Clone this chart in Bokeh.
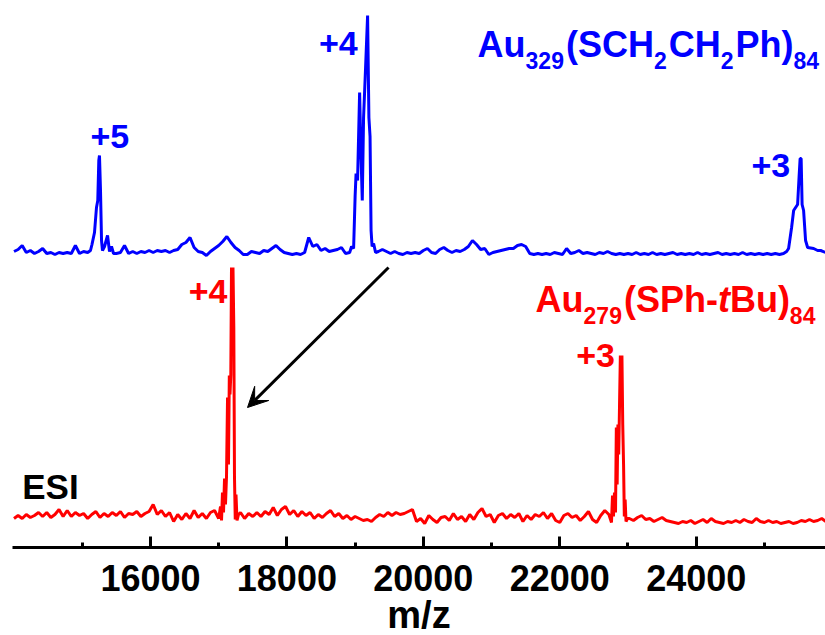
from bokeh.plotting import figure
from bokeh.models import Range1d, Label, Arrow, VeeHead, FixedTicker, ColumnDataSource
from bokeh.embed import file_html
from bokeh.resources import INLINE

# ---------------- data ----------------
# Au329(SCH2CH2Ph)84 spectrum (blue), m/z and intensity (a.u.)
blue_mz_a = [14000, 14060, 14120, 14180, 14240, 14300, 14360, 14420, 14480, 14540,
             14600, 14660, 14720, 14780, 14840, 14900, 14960, 15020, 15080]
blue_int_a = [5, 7, 11, 4, 6, 3, 5, 8, 3, 4, 2, 4, 3, 4, 3, 11, 3, 5, 4]
blue_mz_p5 = [15121, 15143, 15180, 15209, 15228, 15243, 15253, 15268, 15283, 15297,
              15327, 15371, 15400, 15429, 15459]
blue_int_p5 = [6, 12, 24, 49, 56, 96, 101, 66, 16, 6, 10, 21, 5, 10, 3]
blue_mz_b = [15500, 15560, 15620, 15680, 15740, 15800, 15860, 15920, 15980, 16040,
             16100, 16160, 16220, 16280, 16340, 16400, 16460, 16520, 16580, 16640,
             16700, 16760, 16820, 16880, 16940, 17000, 17060, 17120, 17180, 17240,
             17300, 17360, 17420, 17480, 17540, 17600, 17660, 17720, 17780, 17840,
             17900, 17960, 18020, 18080, 18140, 18200, 18260, 18320, 18380, 18440,
             18500, 18560, 18620, 18680, 18740, 18800, 18860, 18920]
blue_int_b = [3, 4, 11, 3, 5, 3, 5, 4, 6, 4, 6, 5, 6, 4, 6, 7, 12, 14, 19, 9,
              5, 4, 1, 5, 8, 11, 15, 20, 14, 9, 6, 2, 2, 5, 4, 3, 6, 5, 8, 11,
              7, 4, 3, 2, 3, 2, 4, 19, 10, 12, 6, 8, 5, 6, 7, 9, 3, 4]
blue_mz_p4 = [18948, 18978, 19000, 19014, 19036, 19066, 19087, 19105, 19124, 19154,
              19183, 19202, 19219, 19234, 19249, 19271, 19300]
blue_int_p4 = [10, 8, 60, 83, 76, 164, 100, 56, 139, 190, 241, 139, 120, 26, 10, 13, 4]
blue_mz_c = [19340, 19400, 19460, 19520, 19580, 19640, 19700, 19760, 19820, 19880,
             19940, 20000, 20060, 20120, 20180, 20240, 20300, 20360, 20420, 20480,
             20540, 20600, 20660, 20720, 20780, 20840, 20900, 20960, 21020, 21080,
             21140, 21200, 21260, 21320, 21380, 21440, 21500, 21560, 21620, 21680,
             21740, 21800, 21860, 21920, 21980, 22040, 22100, 22160, 22220, 22280,
             22340, 22400, 22460, 22520, 22580, 22640, 22700, 22760, 22820, 22880,
             22940, 23000, 23060, 23120, 23180, 23240, 23300, 23360, 23420, 23480,
             23540, 23600, 23660, 23720, 23780, 23840, 23900, 23960, 24020, 24080,
             24140, 24200, 24260, 24320, 24380, 24440, 24500, 24560, 24620, 24680,
             24740, 24800, 24860, 24920, 24980, 25040, 25100, 25160, 25220, 25280]
blue_int_c = [5, 7, 5, 3, 5, 3, 2, 4, 3, 4, 3, 6, 8, 4, 3, 7, 9, 6, 4, 6,
              5, 7, 10, 16, 12, 7, 8, 2, 4, 5, 6, 7, 8, 8, 11, 12, 10, 3, 2, 3,
              2, 3, 2, 4, 3, 2, 8, 3, 4, 6, 3, 4, 3, 2, 4, 3, 5, 3, 2, 3,
              2, 3, 2, 4, 2, 3, 2, 4, 2, 3, 2, 3, 4, 2, 3, 2, 3, 2, 4, 2,
              3, 2, 3, 4, 2, 3, 2, 3, 2, 4, 2, 3, 2, 3, 2, 3, 2, 3, 2, 3]
blue_mz_p3 = [25325, 25354, 25398, 25428, 25457, 25486, 25508, 25523, 25538, 25552,
              25574, 25603, 25633, 25721, 25780, 25824, 25897]
blue_int_p3 = [5, 8, 29, 46, 49, 52, 80, 98, 98, 52, 46, 16, 9, 8, 6, 6, 4]

# Au279(SPh-tBu)84 spectrum (red)
red_mz_a = [14000, 14060, 14120, 14180, 14240, 14300, 14360, 14420, 14480, 14540,
            14600, 14660, 14720, 14780, 14840, 14900, 14960, 15020, 15080, 15140,
            15200, 15260, 15320, 15380, 15440, 15500, 15560, 15620, 15680, 15740,
            15800, 15860, 15920, 15980, 16040, 16100, 16160, 16220, 16280, 16340,
            16400, 16460, 16520, 16580, 16640, 16700, 16760, 16820, 16880, 16940, 17000]
red_int_a = [6, 9, 6, 10, 7, 9, 12, 8, 12, 7, 10, 15, 8, 14, 8, 12, 9, 11, 6, 10,
             13, 7, 11, 8, 12, 9, 13, 7, 11, 10, 13, 8, 11, 13, 20, 10, 14, 8, 12, 3,
             10, 5, 11, 6, 14, 7, 11, 6, 12, 14, 6]
red_mz_p4 = [17027, 17042, 17056, 17071, 17086, 17100, 17115, 17130, 17144, 17156,
             17166, 17178, 17188, 17200, 17210, 17222, 17232, 17243, 17254, 17269, 17291]
red_int_p4 = [18, 4, 32, 12, 46, 20, 48, 127, 60, 149, 130, 150, 257, 200, 257, 197,
              47, 5, 30, 4, 10]
red_mz_b = [17320, 17380, 17440, 17500, 17560, 17620, 17680, 17740, 17800, 17860,
            17920, 17980, 18040, 18100, 18160, 18220, 18280, 18340, 18400, 18460,
            18520, 18580, 18640, 18700, 18760, 18820, 18880, 18940, 19000, 19060,
            19120, 19180, 19240, 19300, 19360, 19420, 19480, 19540, 19600, 19660,
            19720, 19780, 19840, 19900, 19960, 20020, 20080, 20140, 20200, 20260,
            20320, 20380, 20440, 20500, 20560, 20620, 20680, 20740, 20800, 20860,
            20920, 20980, 21040, 21100, 21160, 21220, 21280, 21340, 21400, 21460,
            21520, 21580, 21640, 21700, 21760, 21820, 21880, 21940, 22000, 22060,
            22120, 22180, 22240, 22300, 22360, 22420, 22480, 22540, 22600, 22660, 22720]
red_int_b = [12, 6, 11, 8, 12, 8, 13, 10, 17, 9, 15, 18, 10, 14, 8, 13, 9, 12, 6, 10,
             7, 11, 14, 8, 11, 6, 9, 5, 8, 6, 4, 5, 3, 7, 10, 8, 12, 9, 12, 10,
             11, 13, 15, 3, 6, 1, 9, 5, 2, 7, 8, 4, 11, 5, 8, 3, 10, 5, 12, 16,
             8, 10, 2, 9, 11, 6, 10, 7, 11, 3, 9, 5, 10, 8, 12, 6, 11, 4, 2, 9,
             11, 7, 9, 4, 8, 13, 5, 2, 9, 14, 10]
red_mz_p3 = [22758, 22773, 22787, 22802, 22817, 22829, 22841, 22852, 22864, 22876,
             22888, 22900, 22911, 22923, 22935, 22946, 22958, 22971, 22993]
red_int_p3 = [2, 29, 8, 32, 12, 97, 40, 100, 70, 120, 169, 130, 169, 100, 60, 8, 25, 3, 6]
red_mz_c = [23020, 23080, 23140, 23200, 23260, 23320, 23380, 23440, 23500, 23560,
            23620, 23680, 23740, 23800, 23860, 23920, 23980, 24040, 24100, 24160,
            24220, 24280, 24340, 24400, 24460, 24520, 24580, 24640, 24700, 24760,
            24820, 24880, 24940, 25000, 25060, 25120, 25180, 25240, 25300, 25360,
            25420, 25480, 25540, 25600, 25660, 25720, 25780, 25840, 25900]
red_int_c = [6, 4, 7, 9, 5, 6, 3, 5, 7, 4, 3, 2, 1, 3, 2, 4, 1, 3, 5, 2,
             6, 3, 2, 1, 3, 2, 4, 2, 5, 3, 2, 6, 3, 2, 4, 2, 3, 1, 2, 3,
             1, 2, 4, 3, 5, 3, 4, 6, 3]

major_ticks = [16000, 18000, 20000, 22000, 24000]
minor_ticks = [15000, 17000, 19000, 21000, 23000, 25000]

# ---------------- layout constants ----------------
BLUE_BASE = 291   # vertical offset of the blue trace
RED_BASE = 23     # vertical offset of the red trace
FONT = "Liberation Sans"
BLUE = "#0000FF"
RED = "#FF0000"
MID = 0.35        # middle-to-baseline distance, in font sizes

blue_mz = blue_mz_a + blue_mz_p5 + blue_mz_b + blue_mz_p4 + blue_mz_c + blue_mz_p3
blue_int = blue_int_a + blue_int_p5 + blue_int_b + blue_int_p4 + blue_int_c + blue_int_p3
red_mz = red_mz_a + red_mz_p4 + red_mz_b + red_mz_p3 + red_mz_c
red_int = red_int_a + red_int_p4 + red_int_b + red_int_p3 + red_int_c

blue_src = ColumnDataSource(dict(x=blue_mz, y=[BLUE_BASE + v for v in blue_int]))
red_src = ColumnDataSource(dict(x=red_mz, y=[RED_BASE + v for v in red_int]))

p = figure(frame_width=813, frame_height=539, output_backend="svg", toolbar_location=None,
           x_range=Range1d(13978, 25895), y_range=Range1d(0, 539),
           min_border_left=12, min_border_right=0, min_border_top=8, min_border_bottom=88)
p.outline_line_color = None
p.grid.visible = False
p.yaxis.visible = False
p.background_fill_color = "white"
p.border_fill_color = "white"

p.line("x", "y", source=blue_src, line_color=BLUE, line_width=3)
p.line("x", "y", source=red_src, line_color=RED, line_width=3)

ax = p.xaxis[0]
ax.ticker = FixedTicker(ticks=major_ticks, minor_ticks=minor_ticks)
ax.axis_line_width = 3
ax.axis_line_color = "black"
ax.major_tick_in = 11
ax.major_tick_out = 0
ax.major_tick_line_width = 3
ax.minor_tick_in = 5
ax.minor_tick_out = 0
ax.minor_tick_line_width = 3
ax.major_label_text_font = FONT
ax.major_label_text_font_style = "bold"
ax.major_label_text_font_size = "36px"
ax.major_label_text_color = "black"
ax.major_label_standoff = 17
ax.axis_label = "m/z"
ax.axis_label_text_font = FONT
ax.axis_label_text_font_style = "bold"
ax.axis_label_text_font_size = "38px"
ax.axis_label_text_color = "black"
ax.axis_label_standoff = 0


def lab(text, x, y, color, size=34, style="bold", xo=0, yo=0, align="left"):
    p.add_layout(Label(x=x, y=y, x_offset=xo, y_offset=yo + MID * size, text=text,
                       text_font=FONT, text_font_size=f"{size}px", text_font_style=style,
                       text_color=color, text_baseline="middle", text_align=align))


# charge-state labels
lab("+5", 15120, 399, BLUE)
lab("+4", 18470, 492, BLUE)
lab("+3", 24810, 370, BLUE)
lab("+4", 16560, 244, RED)
lab("+3", 22240, 180, RED)
lab("ESI", 14120, 49, "black", size=35)

# chemical formulas with subscripts
WIDTH = {"A": .722, "u": .611, "(": .333, ")": .333, "S": .667, "C": .722, "H": .722,
         "P": .667, "h": .611, "-": .333, "t": .333, "B": .722}
for d in "0123456789":
    WIDTH[d] = .556


def formula(pieces, x, y, color, size, sub_size, drop):
    off = 0.0
    for text, kind in pieces:
        fs = sub_size if kind == "sub" else size
        style = "bold italic" if kind == "it" else "bold"
        lab(text, x, y, color, size=fs, style=style, xo=off, yo=(-drop if kind == "sub" else 0))
        off += sum(WIDTH[c] for c in text) * fs + (2 if kind == "sub" else 0)


formula([("Au", "n"), ("329", "sub"), ("(SCH", "n"), ("2", "sub"), ("CH", "n"),
         ("2", "sub"), ("Ph)", "n"), ("84", "sub")], 20795, 490, BLUE, 36, 23, 11)
formula([("Au", "n"), ("279", "sub"), ("(SPh-", "n"), ("t", "it"), ("Bu)", "n"),
         ("84", "sub")], 21645, 235, RED, 36, 23, 11)

p.add_layout(Arrow(x_start=19490, y_start=280, x_end=17423, y_end=140,
                   line_color="black", line_width=3,
                   end=VeeHead(size=20, fill_color="black", line_color="black", line_width=1)))

open("out.html", "w").write(file_html(p, INLINE))
